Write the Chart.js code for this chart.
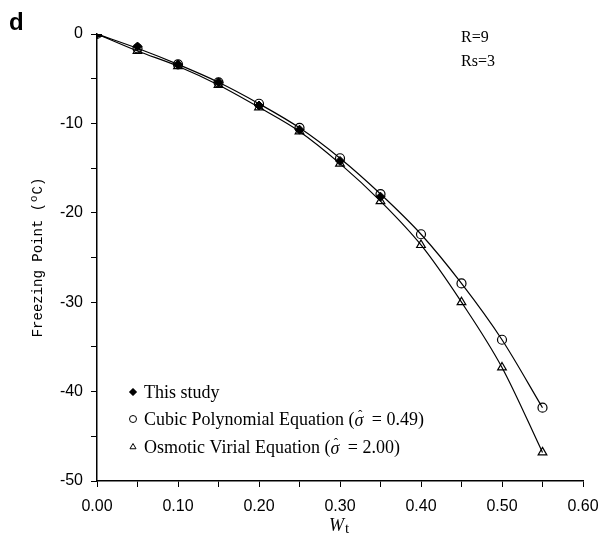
<!DOCTYPE html>
<html>
<head>
<meta charset="utf-8">
<script src="https://cdn.jsdelivr.net/npm/chart.js@4.4.1/dist/chart.umd.min.js"></script>
<style>
  body { margin: 0; background: #fff; }
  #wrap { position: relative; width: 612px; height: 557px; }
</style>
</head>
<body>
<div id="wrap"><canvas id="fpChart" width="612" height="557"></canvas></div>
<script>
// mass fraction Wt
var wt = [0, 0.05, 0.10, 0.15, 0.20, 0.25, 0.30, 0.35, 0.40, 0.45, 0.50, 0.55];
var thisStudy = [0, -1.4, -3.4, -5.4, -8.0, -10.7, -14.2, -18.2];
var cubicPoly = [0, -1.6, -3.4, -5.4, -7.8, -10.5, -13.9, -17.9, -22.4, -27.9, -34.2, -41.8];
var osmoticVirial = [0, -1.9, -3.6, -5.7, -8.2, -10.9, -14.5, -18.7, -23.6, -30.0, -37.3, -46.8];
var legendNames = ['This study', 'Cubic Polynomial Equation', 'Osmotic Virial Equation'];
var legendSigma = [null, '0.49', '2.00'];
var xTicks = [0, 0.1, 0.2, 0.3, 0.4, 0.5, 0.6];
var yTicks = [0, -10, -20, -30, -40, -50];

function toPoints(vals) {
    return vals.map(function (v, i) { return { x: wt[i], y: v }; });
}

var serif = '"Liberation Serif", "DejaVu Serif", serif';
var sans = '"Liberation Sans", Arial, sans-serif';

// legend inside the plot + panel letter + R labels
var extrasPlugin = {
    id: 'extras',
    afterDraw: function (chart) {
        var ctx = chart.ctx;
        ctx.save();
        // panel letter
        ctx.fillStyle = '#000';
        ctx.font = 'bold 24px ' + sans;
        ctx.textBaseline = 'alphabetic';
        ctx.textAlign = 'left';
        ctx.fillText('d', 9, 30);

        ctx.font = '16px ' + serif;
        ctx.fillText('R=9', 461, 42);
        ctx.fillText('Rs=3', 461, 66);

        // legend
        var rows = [392, 419, 447];
        var styles = ['rectRot', 'circle', 'triangle'];
        for (var i = 0; i < rows.length; i++) {
            var cy = rows[i];
            ctx.lineWidth = 1;
            ctx.strokeStyle = '#000';
            ctx.fillStyle = i === 0 ? '#000' : '#fff';
            Chart.helpers.drawPoint(ctx, { pointStyle: styles[i], radius: 3.5, borderWidth: 1 }, 133, cy);
            if (i === 0) ctx.fill();
            ctx.fillStyle = '#000';
            ctx.font = '18px ' + serif;
            ctx.textBaseline = 'middle';
            var x = 144;
            var txt = legendNames[i] + (legendSigma[i] ? ' (' : '');
            ctx.fillText(txt, x, cy + 1);
            if (legendSigma[i]) {
                x += ctx.measureText(txt).width;
                ctx.font = 'italic 18px ' + serif;
                ctx.fillText('\u03C3', x, cy + 2);
                var sw = ctx.measureText('\u03C3').width;
                ctx.font = '13px ' + serif;
                ctx.fillText('\u02C6', x + sw / 2 - 1, cy - 3);
                x += sw;
                ctx.font = '18px ' + serif;
                ctx.fillText(' = ' + legendSigma[i] + ')', x + 4, cy + 1);
            }
        }

        // x axis title: Wt
        ctx.textBaseline = 'alphabetic';
        ctx.font = 'italic 18px ' + serif;
        ctx.fillText('W', 329, 531);
        ctx.font = '15px ' + serif;
        ctx.fillText('t', 345, 533);
        ctx.restore();
    }
};

var ctxFp = document.getElementById('fpChart').getContext('2d');
var fpChart = new Chart(ctxFp, {
    type: 'scatter',
    data: {
        datasets: [{
            label: 'Osmotic Virial Equation',
            data: toPoints(osmoticVirial),
            showLine: true,
            cubicInterpolationMode: 'monotone',
            borderColor: '#000',
            borderWidth: 1.2,
            pointStyle: 'triangle',
            pointRadius: 5,
            pointBackgroundColor: 'rgba(255,255,255,0)',
            pointBorderColor: '#000',
            pointBorderWidth: 1.2
        }, {
            label: 'Cubic Polynomial Equation',
            data: toPoints(cubicPoly),
            showLine: true,
            cubicInterpolationMode: 'monotone',
            borderColor: '#000',
            borderWidth: 1.2,
            pointStyle: 'circle',
            pointRadius: 4.5,
            pointBackgroundColor: 'rgba(255,255,255,0)',
            pointBorderColor: '#000',
            pointBorderWidth: 1.2
        }, {
            label: 'This study',
            data: toPoints(thisStudy),
            showLine: false,
            pointStyle: 'rectRot',
            pointRadius: 4.5,
            pointBackgroundColor: '#000',
            pointBorderColor: '#000',
            pointBorderWidth: 1
        }]
    },
    options: {
        responsive: false,
        animation: false,
        layout: { padding: { top: 34, right: 29, left: 30, bottom: 0 } },
        plugins: {
            legend: { display: false },
            tooltip: { enabled: false }
        },
        scales: {
            x: {
                type: 'linear',
                min: 0,
                max: 0.6,
                afterBuildTicks: function (axis) {
                    var t = [];
                    for (var i = 0; i <= 12; i++) t.push({ value: i * 0.05 });
                    axis.ticks = t;
                },
                afterFit: function (axis) { axis.height = 557 - 481; },
                ticks: {
                    color: '#000',
                    font: { family: sans, size: 16 },
                    padding: 10,
                    maxRotation: 0,
                    autoSkip: false,
                    callback: function (v) {
                        var k = Math.round(v * 100);
                        return k % 10 === 0 && xTicks.indexOf(k / 100) >= 0 ? (k / 100).toFixed(2) : '';
                    }
                },
                grid: {
                    drawOnChartArea: false,
                    drawTicks: true,
                    tickLength: 6,
                    color: '#000',
                    tickColor: '#000'
                },
                border: { color: '#000', width: 1.5 }
            },
            y: {
                type: 'linear',
                min: -50,
                max: 0,
                afterBuildTicks: function (axis) {
                    var t = [];
                    for (var v = 0; v >= -50; v -= 5) t.push({ value: v });
                    axis.ticks = t;
                },
                afterFit: function (axis) { axis.width = 67; },
                ticks: {
                    color: '#000',
                    font: { family: sans, size: 16 },
                    padding: 8,
                    autoSkip: false,
                    callback: function (v) {
                        return yTicks.indexOf(v) >= 0 ? String(v) : '';
                    }
                },
                title: {
                    display: true,
                    text: 'Freezing Point (\u00BAC)',
                    color: '#000',
                    font: { family: '"Liberation Mono", "DejaVu Sans Mono", monospace', size: 14 },
                    padding: { top: 0, bottom: 0 }
                },
                grid: {
                    drawOnChartArea: false,
                    drawTicks: true,
                    tickLength: 6,
                    color: '#000',
                    tickColor: '#000'
                },
                border: { color: '#000', width: 1.5 }
            }
        }
    },
    plugins: [extrasPlugin]
});
</script>
</body>
</html>
